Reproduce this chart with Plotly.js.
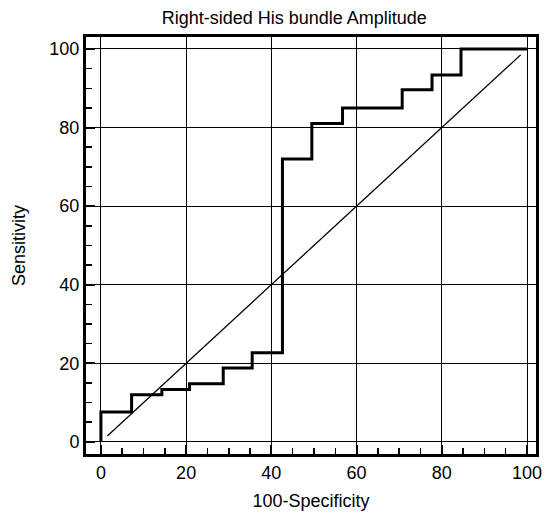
<!DOCTYPE html>
<html>
<head>
<meta charset="utf-8">
<script src="https://cdn.plot.ly/plotly-3.0.1.min.js"></script>
<style>html,body{margin:0;padding:0;background:#fff;}#chart{width:549px;height:518px;}</style>
</head>
<body>
<div id="chart"></div>
<script>
// ROC step curve corners (100-Specificity, Sensitivity), drawn with 'hv' steps
const rocX = [0, 0, 7.2, 14.3, 20.8, 28.7, 35.5, 42.6, 49.5, 56.7, 70.7, 77.7, 84.5, 100];
const rocY = [0, 7.6, 12, 13.3, 14.8, 18.8, 22.7, 72, 81, 85, 89.6, 93.4, 100, 100];
// reference (chance) diagonal
const diagX = [1.5, 98.5];
const diagY = [1.5, 98.5];
const tickVals = [0, 20, 40, 60, 80, 100];
const tickText = ['0', '20', '40', '60', '80', '100'];
const chartTitle = 'Right-sided His bundle Amplitude';
const xTitle = '100-Specificity';
const yTitle = 'Sensitivity';

const fontFam = 'Liberation Sans, Arial, Helvetica, sans-serif';

const traces = [
  {x: diagX, y: diagY, mode: 'lines', line: {color: '#000', width: 1.3}, hoverinfo: 'skip', showlegend: false},
  {x: rocX, y: rocY, mode: 'lines', line: {color: '#000', width: 3, shape: 'hv'}, showlegend: false}
];

const axisCommon = {
  showline: true, linecolor: '#000', linewidth: 3, mirror: true,
  showgrid: true, gridcolor: '#000', gridwidth: 1,
  zeroline: false,
  tickmode: 'array', tickvals: tickVals, ticktext: tickText,
  ticks: 'inside', ticklen: 9, tickwidth: 2, tickcolor: '#000',
  minor: {dtick: 5, tick0: 0, ticks: 'inside', ticklen: 6, tickwidth: 1.5, tickcolor: '#000', showgrid: false},
  tickfont: {family: fontFam, size: 18, color: '#000'},
  fixedrange: true
};

const layout = {
  width: 549, height: 518,
  margin: {l: 86, r: 13, t: 37, b: 64},
  paper_bgcolor: '#fff', plot_bgcolor: '#fff',
  title: {text: chartTitle, font: {family: fontFam, size: 18, color: '#000'},
          x: 0.536, xref: 'container', xanchor: 'center', y: 0.965, yref: 'container', yanchor: 'middle'},
  xaxis: Object.assign({}, axisCommon, {
    range: [-3.5, 102.1],
    title: {text: xTitle, font: {family: fontFam, size: 18, color: '#000'}, standoff: 13}
  }),
  yaxis: Object.assign({}, axisCommon, {
    range: [-3.1, 103.05],
    title: {text: yTitle, font: {family: fontFam, size: 18, color: '#000'}, standoff: 20}
  })
};

Plotly.newPlot('chart', traces, layout, {displayModeBar: false, staticPlot: true});
</script>
</body>
</html>
